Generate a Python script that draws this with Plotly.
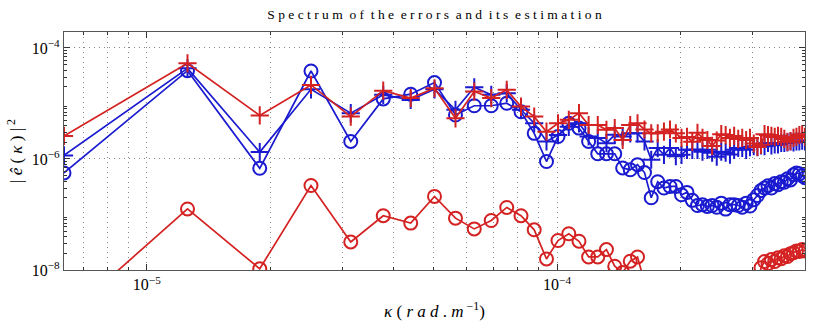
import numpy as np
import plotly.graph_objects as go

# wavenumber index (kappa = 2*pi*n*1e-6 rad/m)
n_idx = list(range(1, 65))
kappa = [2 * np.pi * n * 1e-6 for n in n_idx]

red_plus = [2.6e-6, 5.3e-5, 6.1e-6, 2.16e-5, 5.8e-6, 1.7e-5, 1.25e-5, 1.88e-5, 5.4e-6, 1.64e-5,
            1.25e-5, 1.76e-5, 8.8e-6, 5.8e-6, 3.1e-6, 4.4e-6, 5.07e-6, 6.7e-6, 4.1e-6, 4.1e-6,
            3.35e-6, 3.6e-6, 2.2e-6, 4.1e-6, 4.4e-6, 3.4e-6, 2.9e-6, 2.9e-6, 3.1e-6, 3.4e-6,
            2.9e-6, 2.4e-6, 2.5e-6, 2.04e-6, 2.96e-6, 2.4e-6, 2.2e-6, 1.72e-6, 2.15e-6, 2.8e-6,
            2.7e-6, 2.4e-6, 2.6e-6, 2.3e-6, 2.4e-6, 2.2e-6, 2.4e-6, 1.9e-6, 1.65e-6, 1.8e-6,
            2.8e-6, 2.7e-6, 2.6e-6, 2.5e-6, 2.6e-6, 2.5e-6, 2.3e-6, 2.04e-6, 2.1e-6, 2.4e-6,
            2.5e-6, 2.7e-6, 2.8e-6, 2.5e-6]

blue_plus = [1.16e-6, 4.3e-5, 1.33e-6, 1.8e-5, 6.7e-6, 1.43e-5, 1.16e-5, 1.8e-5, 7.7e-6, 1.96e-5,
             1.43e-5, 1.53e-5, 7.7e-6, 4.4e-6, 2.07e-6, 2.7e-6, 3.8e-6, 4.4e-6, 2.55e-6, 2.4e-6,
             1.93e-6, 2.73e-6, 2.55e-6, 2.9e-6, 2.9e-6, 2.07e-6, 9.7e-7, 1.57e-6, 1.19e-6, 1.57e-6,
             1.12e-6, 1.19e-6, 1.46e-6, 1.46e-6, 1.46e-6, 1.35e-6, 1.46e-6, 1.3e-6, 1.1e-6, 1.35e-6,
             1.3e-6, 1.2e-6, 1.46e-6, 1.58e-6, 1.58e-6, 1.46e-6, 1.64e-6, 1.7e-6, 1.64e-6, 1.76e-6,
             1.7e-6, 1.95e-6, 1.76e-6, 1.83e-6, 1.83e-6, 1.95e-6, 1.95e-6, 2.0e-6, 2.07e-6, 2.0e-6,
             2.07e-6, 2.07e-6, 2.15e-6, 2.07e-6]

blue_circ = [5.6e-7, 3.9e-5, 6.8e-7, 3.85e-5, 2.07e-6, 1.21e-5, 1.47e-5, 2.38e-5, 6.2e-6, 9.1e-6,
             9.1e-6, 1.01e-5, 7.1e-6, 2.9e-6, 9.0e-7, 2.54e-6, 4.4e-6, 3.6e-6, 2.07e-6, 1.24e-6,
             1.24e-6, 1.24e-6, 6.9e-7, 6.4e-7, 7.9e-7, 5.7e-7, 2.0e-7, 3.9e-7, 3.0e-7, 3.2e-7,
             3.2e-7, 2.27e-7, 2.5e-7, 1.8e-7, 1.45e-7, 1.5e-7, 1.4e-7, 1.45e-7, 1.35e-7, 1.6e-7,
             1.25e-7, 1.5e-7, 1.5e-7, 1.45e-7, 1.35e-7, 1.6e-7, 1.42e-7, 1.85e-7, 2.2e-7, 2.7e-7,
             3.0e-7, 3.3e-7, 3.0e-7, 3.6e-7, 3.45e-7, 3.9e-7, 3.8e-7, 4.4e-7, 4.2e-7, 5.2e-7,
             5.6e-7, 5.4e-7, 5.0e-7, 4.6e-7]

red_circ = [1.35e-9, 1.26e-7, 1.05e-8, 3.33e-7, 3.2e-8, 9.5e-8, 7.0e-8, 2.12e-7, 8.6e-8, 5.5e-8,
            7.8e-8, 1.34e-7, 9.5e-8, 5.3e-8, 1.58e-8, 3.4e-8, 4.5e-8, 3.3e-8, 1.72e-8, 1.72e-8,
            2.33e-8, 1.17e-8, 9.0e-9, 1.44e-8, 1.72e-8, 6.0e-9, 3.0e-9, 2.0e-9, 2.5e-9, 2.0e-9,
            1.5e-9, 2.0e-9, 1.8e-9, 1.5e-9, 1.6e-9, 1.5e-9, 1.4e-9, 1.5e-9, 1.6e-9, 1.5e-9,
            1.7e-9, 1.8e-9, 2.0e-9, 2.2e-9, 2.4e-9, 2.6e-9, 3.0e-9, 3.5e-9, 5.0e-9, 1.1e-8,
            1.42e-8, 1.3e-8, 1.54e-8, 1.42e-8, 1.66e-8, 1.6e-8, 1.8e-8, 1.75e-8, 1.97e-8, 2.05e-8,
            2.2e-8, 2.15e-8, 2.33e-8, 2.2e-8]

x_major = [1e-5, 1e-4]
x_major_text = ["10<sup>−5</sup>", "10<sup>−4</sup>"]
x_minor = [7e-6, 8e-6, 9e-6, 2e-5, 3e-5, 4e-5, 5e-5, 6e-5, 7e-5, 8e-5, 9e-5, 2e-4, 3e-4]
y_major = [1e-8, 1e-6, 1e-4]
y_major_text = ["10<sup>−8</sup>", "10<sup>−6</sup>", "10<sup>−4</sup>"]
y_minor = [m * 10.0 ** e for e in (-8, -7, -6, -5, -4) for m in range(2, 10)]

RED = "#d42222"
BLUE = "#1a1ad0"

fig = go.Figure()
fig.add_trace(go.Scatter(x=kappa, y=blue_circ, mode="lines+markers",
                         line=dict(color=BLUE, width=1.7),
                         marker=dict(symbol="circle-open", size=13, color=BLUE, line=dict(width=2))))
fig.add_trace(go.Scatter(x=kappa, y=red_circ, mode="lines+markers",
                         line=dict(color=RED, width=1.7),
                         marker=dict(symbol="circle-open", size=13, color=RED, line=dict(width=2))))
fig.add_trace(go.Scatter(x=kappa, y=blue_plus, mode="lines+markers",
                         line=dict(color=BLUE, width=1.7),
                         marker=dict(symbol="cross-thin-open", size=13, color=BLUE, line=dict(width=2, color=BLUE))))
fig.add_trace(go.Scatter(x=kappa, y=red_plus, mode="lines+markers",
                         line=dict(color=RED, width=1.7),
                         marker=dict(symbol="cross-thin-open", size=13, color=RED, line=dict(width=2, color=RED))))

font_family = "Liberation Serif, DejaVu Serif, serif"

fig.update_layout(
    width=817, height=325,
    margin=dict(l=64, r=12, t=32, b=55, autoexpand=False),
    paper_bgcolor="white", plot_bgcolor="white",
    showlegend=False,
    font=dict(family=font_family, size=16, color="black"),
    title=dict(text="S p e c t r u m  o f  t h e  e r r o r s  a n d  i t s  e s t i m a t i o n",
               x=(64 + 805) / 2 / 817, xanchor="center", y=0.957, yanchor="middle",
               font=dict(family=font_family, size=13.5, color="black")),
)

GRID_DASH = "1px,4px"

fig.update_xaxes(
    type="log", automargin=False,
    range=[np.log10(2 * np.pi * 1e-6), np.log10(2 * np.pi * 64e-6)],
    tickmode="array", tickvals=x_major, ticktext=x_major_text,
    ticks="inside", ticklen=6, tickcolor="#333",
    showgrid=True, griddash=GRID_DASH, gridcolor="#888", gridwidth=1,
    minor=dict(tickmode="array", tickvals=x_minor, ticks="inside", ticklen=3,
               tickcolor="#333", showgrid=True, griddash=GRID_DASH, gridcolor="#888", gridwidth=1),
    showline=True, linecolor="#555", linewidth=1.3, mirror="ticks",
    zeroline=False,
    tickfont=dict(family=font_family, size=16),
    title=dict(text="<i>κ</i> ( <i>r a d</i> . <i>m</i><sup> −1</sup>)", standoff=12,
               font=dict(family=font_family, size=17)),
)

fig.update_yaxes(
    type="log", automargin=False,
    range=[-8, -3.712],
    tickmode="array", tickvals=y_major, ticktext=y_major_text,
    ticks="inside", ticklen=6, tickcolor="#333",
    showgrid=True, griddash=GRID_DASH, gridcolor="#888", gridwidth=1,
    minor=dict(tickmode="array", tickvals=y_minor, ticks="inside", ticklen=3,
               tickcolor="#333", showgrid=False),
    showline=True, linecolor="#555", linewidth=1.3, mirror="ticks",
    zeroline=False,
    tickfont=dict(family=font_family, size=16),
    title=dict(text="| <i>ê</i> ( <i>κ</i> ) |<sup> 2</sup>", standoff=4,
               font=dict(family=font_family, size=17)),
)

fig.write_html("out.html", config={"displayModeBar": False},
               post_script="document.body.style.margin='0';")
